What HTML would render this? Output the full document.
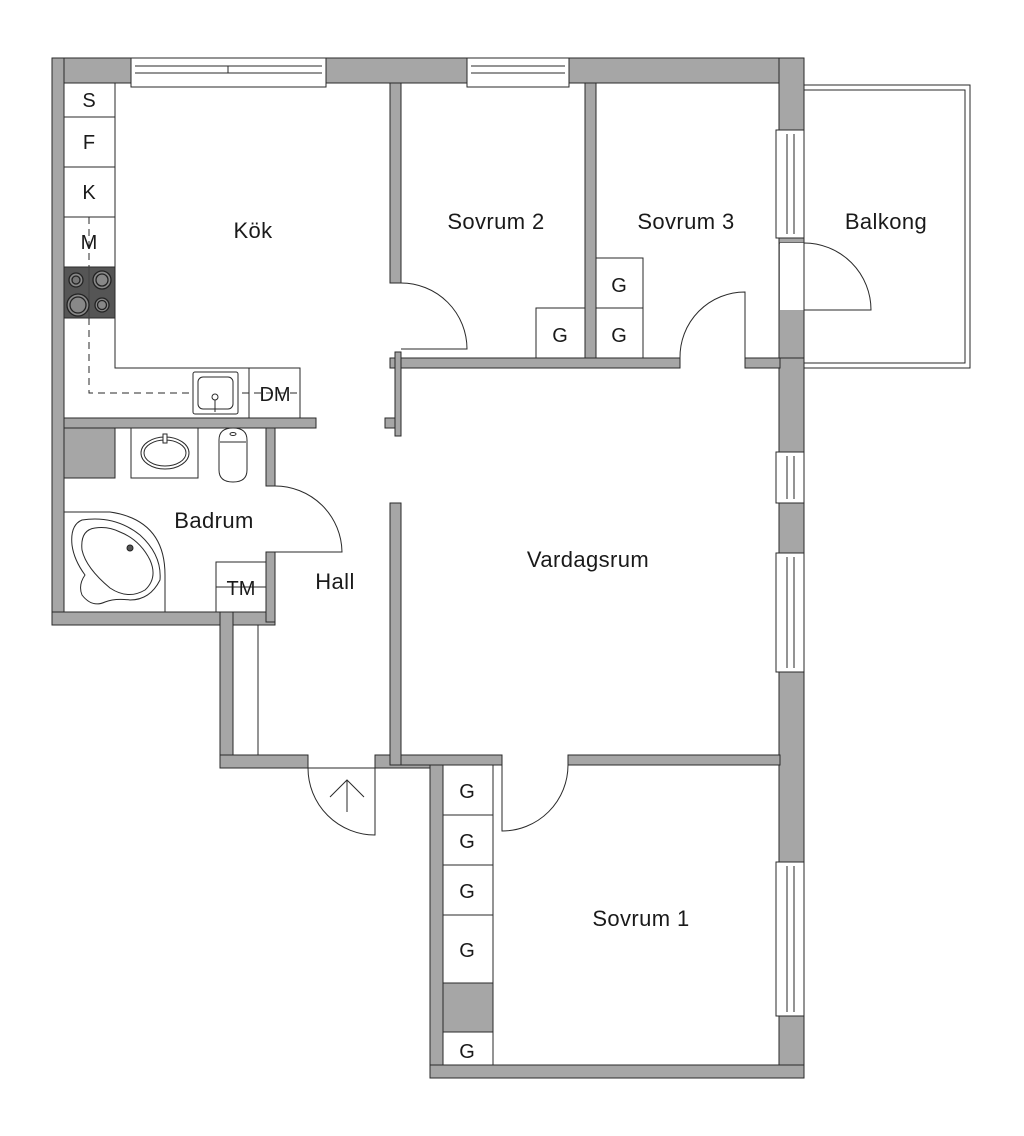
<!DOCTYPE html>
<html><head><meta charset="utf-8"><style>
html,body{margin:0;padding:0;background:#fff}
svg{display:block}
text{font-family:"Liberation Sans",sans-serif;font-size:20px;fill:#1a1a1a;text-anchor:middle}
text.r{font-size:22px;letter-spacing:0.4px}
.w{fill:#a6a6a6;stroke:#2a2a2a;stroke-width:1}
.l{fill:none;stroke:#2a2a2a;stroke-width:1}
.b{fill:#fff;stroke:#2a2a2a;stroke-width:1}
</style></head><body>
<svg width="1024" height="1136" viewBox="0 0 1024 1136" xmlns="http://www.w3.org/2000/svg">
<rect class="w" x="52" y="58" width="752" height="25"/>
<rect class="w" x="52" y="58" width="12" height="567"/>
<rect class="w" x="779" y="58" width="25" height="310"/>
<rect class="w" x="779" y="358" width="25" height="720"/>
<rect class="w" x="52" y="612" width="223" height="13"/>
<rect class="w" x="220" y="612" width="13" height="156"/>
<rect class="w" x="220" y="755" width="88" height="13"/>
<rect class="w" x="375" y="755" width="68" height="13"/>
<rect class="w" x="430" y="755" width="13" height="323"/>
<rect class="w" x="430" y="1065" width="374" height="13"/>
<rect class="w" x="390" y="83" width="11" height="200"/>
<rect class="w" x="585" y="83" width="11" height="275"/>
<rect class="w" x="390" y="358" width="290" height="10"/>
<rect class="w" x="745" y="358" width="35" height="10"/>
<rect class="w" x="395" y="352" width="6" height="84"/>
<rect class="w" x="385" y="418" width="10" height="10"/>
<rect class="w" x="64" y="418" width="252" height="10"/>
<rect class="w" x="64" y="428" width="51" height="50"/>
<rect class="w" x="266" y="428" width="9" height="58"/>
<rect class="w" x="266" y="552" width="9" height="70"/>
<rect class="w" x="390" y="503" width="11" height="262"/>
<rect class="w" x="401" y="755" width="101" height="10"/>
<rect class="w" x="568" y="755" width="212" height="10"/>
<rect class="w" x="443" y="983" width="50" height="49"/>
<rect class="b" x="131" y="58" width="195" height="29"/>
<line class="l" x1="135" y1="66" x2="322" y2="66"/><line class="l" x1="135" y1="73" x2="322" y2="73"/>
<line class="l" x1="228" y1="66" x2="228" y2="73"/>
<rect class="b" x="467" y="58" width="102" height="29"/>
<line class="l" x1="471" y1="66" x2="565" y2="66"/><line class="l" x1="471" y1="73" x2="565" y2="73"/>
<rect class="b" x="776" y="130" width="28" height="108"/><line class="l" x1="787" y1="134" x2="787" y2="234"/><line class="l" x1="794" y1="134" x2="794" y2="234"/>
<rect class="w" x="779" y="238" width="25" height="5"/>
<rect class="b" x="776" y="452" width="28" height="51"/><line class="l" x1="787" y1="456" x2="787" y2="499"/><line class="l" x1="794" y1="456" x2="794" y2="499"/>
<rect class="b" x="776" y="553" width="28" height="119"/><line class="l" x1="787" y1="557" x2="787" y2="668"/><line class="l" x1="794" y1="557" x2="794" y2="668"/>
<rect class="b" x="776" y="862" width="28" height="154"/><line class="l" x1="787" y1="866" x2="787" y2="1012"/><line class="l" x1="794" y1="866" x2="794" y2="1012"/>
<rect fill="#fff" x="780" y="243" width="24" height="67"/>
<rect class="l" x="804" y="85" width="166" height="283"/>
<rect class="l" x="804" y="90" width="161" height="273"/>
<path class="l" d="M804 243 A67 67 0 0 1 871 310 L804 310"/>
<path class="l" d="M401 283 A66 66 0 0 1 467 349 L401 349"/>
<path class="l" d="M745 358 L745 292 A65 65 0 0 0 680 358"/>
<path class="l" d="M275 486 A67 67 0 0 1 342 552 L275 552"/>
<path class="l" d="M568 765 A66 66 0 0 1 502 831 L502 765"/>
<path class="l" d="M308 768 A67 67 0 0 0 375 835 L375 768 L308 768"/>
<path class="l" d="M347 812 L347 780 M330 797 L347 780 L364 797"/>
<path class="l" d="M115 83 L115 368 L300 368 L300 418"/>
<line class="l" x1="64" y1="117" x2="115" y2="117"/><line class="l" x1="64" y1="167" x2="115" y2="167"/>
<line class="l" x1="64" y1="217" x2="115" y2="217"/><line class="l" x1="64" y1="267" x2="115" y2="267"/>
<line class="l" x1="249" y1="368" x2="249" y2="418"/>
<rect x="64" y="267" width="51" height="51" fill="#555" stroke="#2a2a2a"/>
<line x1="89" y1="267" x2="89" y2="318" stroke="#444"/>
<g fill="#888" stroke="#222" stroke-width="1.3">
<circle cx="76" cy="280" r="7"/><circle cx="76" cy="280" r="4" fill="#777"/>
<circle cx="102" cy="280" r="9"/><circle cx="102" cy="280" r="6"/>
<circle cx="78" cy="305" r="11"/><circle cx="78" cy="305" r="8"/>
<circle cx="102" cy="305" r="7"/><circle cx="102" cy="305" r="4.5"/>
</g>
<path class="l" stroke-dasharray="7,5" d="M89 217 L89 267 M89 318 L89 393 L300 393"/>
<rect class="b" x="193" y="372" width="45" height="42" rx="2"/>
<rect class="l" x="198" y="377" width="35" height="32" rx="5"/>
<circle class="b" cx="215" cy="397" r="3"/><line class="l" x1="215" y1="400" x2="215" y2="412" stroke-width="2"/>
<text x="89" y="107">S</text><text x="89" y="149">F</text><text x="89" y="199">K</text><text x="89" y="249">M</text>
<text x="275" y="401">DM</text>
<rect class="l" x="131" y="428" width="67" height="50"/>
<ellipse class="l" cx="165" cy="453" rx="24" ry="16"/><ellipse class="l" cx="165" cy="453" rx="21" ry="13"/>
<rect class="b" x="163" y="434" width="4" height="9"/>
<path class="l" d="M219 440 Q219 428 233 428 Q247 428 247 440 L247 470 Q247 482 233 482 Q219 482 219 470 Z"/>
<path class="l" d="M220 442 L246 442"/><ellipse class="l" cx="233" cy="434" rx="3" ry="1.5"/>
<path class="l" d="M64 512 L110 512 Q165 520 165 575 L165 612"/>
<path class="l" d="M82 520 Q70 525 72 545 Q74 560 85 575 Q78 585 82 595 Q92 608 105 602 Q115 598 130 600 Q150 600 160 580 Q162 555 140 535 Q115 515 82 520 Z"/>
<path class="l" d="M95 528 Q80 530 82 550 Q86 568 110 588 Q128 600 145 590 Q158 578 150 560 Q140 540 120 532 Q108 526 95 528 Z"/>
<circle cx="130" cy="548" r="3" fill="#555" stroke="#222"/>
<rect class="l" x="216" y="562" width="50" height="50"/>
<line class="l" x1="216" y1="587" x2="266" y2="587"/>
<text x="241" y="595">TM</text>
<line class="l" x1="258" y1="625" x2="258" y2="755"/>
<rect class="l" x="536" y="308" width="49" height="50"/>
<rect class="l" x="596" y="258" width="47" height="50"/><rect class="l" x="596" y="308" width="47" height="50"/>
<rect class="l" x="443" y="765" width="50" height="50"/><rect class="l" x="443" y="815" width="50" height="50"/>
<rect class="l" x="443" y="865" width="50" height="50"/><rect class="l" x="443" y="915" width="50" height="68"/>
<rect class="l" x="443" y="1032" width="50" height="33"/>
<g><text x="560" y="342">G</text><text x="619" y="292">G</text><text x="619" y="342">G</text>
<text x="467" y="798">G</text><text x="467" y="848">G</text><text x="467" y="898">G</text><text x="467" y="957">G</text><text x="467" y="1058">G</text></g>
<text class="r" x="253" y="238">Kök</text>
<text class="r" x="496" y="229">Sovrum 2</text>
<text class="r" x="686" y="229">Sovrum 3</text>
<text class="r" x="886" y="229">Balkong</text>
<text class="r" x="214" y="528">Badrum</text>
<text class="r" x="335" y="589">Hall</text>
<text class="r" x="588" y="567">Vardagsrum</text>
<text class="r" x="641" y="926">Sovrum 1</text>
</svg>
</body></html>
